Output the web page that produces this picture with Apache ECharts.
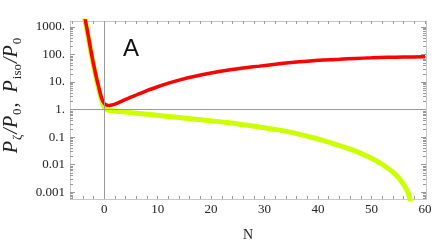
<!DOCTYPE html>
<html>
<head>
<meta charset="utf-8">
<script src="https://cdn.jsdelivr.net/npm/echarts@6/dist/echarts.min.js"></script>
<style>
html,body{margin:0;padding:0;background:#fff;}
#c{width:436px;height:247px;}
</style>
</head>
<body>
<div id="c"></div>
<script>
// ---- data (log10 of P/P0 vs N) ----
var redN   = [-3.8, -3.5, -3, -2.5, -2, -1.5, -1, -0.5, 0, 0.5, 1, 1.5, 2, 3, 4, 5, 6, 8, 10, 12, 14, 17, 20, 23, 26, 29, 32, 35, 38, 41, 44, 47, 50, 53, 56, 60];
var redLog = [3.5, 3.22, 2.7, 2.15, 1.65, 1.2, 0.8, 0.42, 0.22, 0.16, 0.15, 0.17, 0.2, 0.28, 0.37, 0.45, 0.53, 0.69, 0.83, 0.96, 1.07, 1.21, 1.33, 1.43, 1.51, 1.58, 1.65, 1.71, 1.76, 1.8, 1.83, 1.86, 1.88, 1.9, 1.91, 1.92];

var yelN   = [-3.8, -3.5, -3, -2.5, -2, -1.5, -1, -0.5, 0, 0.5, 1, 2, 3, 5, 8, 11, 14, 17, 20, 23, 26, 29, 32, 35, 38, 41, 44, 46, 48, 50, 52, 53, 54, 55, 56, 57, 57.5];
var yelLog = [3.45, 3.18, 2.65, 2.1, 1.6, 1.15, 0.72, 0.35, 0.08, 0.0, -0.03, -0.05, -0.07, -0.11, -0.17, -0.23, -0.29, -0.35, -0.41, -0.47, -0.55, -0.63, -0.72, -0.83, -0.97, -1.13, -1.31, -1.44, -1.59, -1.77, -1.99, -2.12, -2.27, -2.46, -2.72, -3.1, -3.6];

var xTickLabels = [0, 10, 20, 30, 40, 50, 60];
var yTickExp    = [-3, -2, -1, 0, 1, 2, 3];
var yTickLabels = ['0.001', '0.01', '0.1', '1.', '10.', '100.', '1000.'];

var X_MIN = -6.4, X_MAX = 60.2, Y_MIN = -3.25, Y_MAX = 3.22;

function pairs(a, b) { return a.map(function (v, i) { return [v, b[i]]; }); }

var xMinorTicks = [];
for (var t = -6; t <= 60; t += 2) xMinorTicks.push(t);
var yMinorTicks = [];
for (var n = -4; n <= 3; n++) for (var k = 2; k <= 9; k++) {
  var v = n + Math.log10(k);
  if (v > Y_MIN && v < Y_MAX) yMinorTicks.push(v);
}

var serif = "'Liberation Serif','DejaVu Serif',serif";
var frameColor = '#c8c8c8';
var tickColor = '#999';

function yAx(pos, ticks, len, showLine, labels) {
  return {
    type: 'value', position: pos, min: Y_MIN, max: Y_MAX,
    axisLine: { show: showLine, onZero: false, lineStyle: { color: frameColor, width: 1 } },
    axisTick: { show: true, inside: true, length: len, customValues: ticks, lineStyle: { color: tickColor } },
    axisLabel: labels ? {
      show: true, customValues: yTickExp, margin: 5,
      fontFamily: serif, fontSize: 13, color: '#222',
      formatter: function (v) { var i = yTickExp.indexOf(Math.round(v)); return yTickLabels[i]; }
    } : { show: false },
    splitLine: { show: false }
  };
}

var chart = echarts.init(document.getElementById('c'), null, { renderer: 'canvas' });
chart.setOption({
  animation: false,
  grid: { left: 70, right: 10, top: 21, bottom: 47 },
  xAxis: [{
    type: 'value', position: 'bottom', min: X_MIN, max: X_MAX,
    axisLine: { show: true, onZero: false, lineStyle: { color: frameColor } },
    axisTick: { show: true, inside: true, length: 3, customValues: xMinorTicks, lineStyle: { color: tickColor } },
    axisLabel: { show: true, customValues: xTickLabels, margin: 4, fontFamily: serif, fontSize: 13, color: '#222' },
    splitLine: { show: false },
    name: 'N', nameLocation: 'middle', nameGap: 29,
    nameTextStyle: { fontFamily: serif, fontSize: 14, color: '#222' }
  }, {
    type: 'value', position: 'top', min: X_MIN, max: X_MAX,
    axisLine: { show: true, onZero: false, lineStyle: { color: frameColor } },
    axisTick: { show: true, inside: true, length: 3, customValues: xMinorTicks, lineStyle: { color: tickColor } },
    axisLabel: { show: false },
    splitLine: { show: false }
  }],
  yAxis: [
    yAx('left', yTickExp, 5, true, true),
    yAx('left', yMinorTicks, 3, false, false),
    yAx('right', yTickExp, 5, true, false),
    yAx('right', yMinorTicks, 3, false, false)
  ],
  graphic: [{
    type: 'text', x: 12, y: 95, rotation: Math.PI / 2,
    style: {
      text: '{i|P}{s|ζ}{i|/}{i|P}{s|0}{i|,  P}{s|iso}{i|/}{i|P}{s|0}',
      align: 'center', verticalAlign: 'middle',
      rich: {
        i: { fontFamily: serif, fontStyle: 'italic', fontSize: 20, fill: '#222' },
        s: { fontFamily: serif, fontStyle: 'normal', fontSize: 13, fill: '#222', padding: [11, 1, 0, 1] }
      }
    }
  }, {
    type: 'text', x: 131, y: 49,
    style: { text: 'A', fontFamily: "'Liberation Sans',Arial,sans-serif", fontSize: 24, fill: '#111', align: 'center', verticalAlign: 'middle' }
  }],
  series: [{
    type: 'line', xAxisIndex: 0, yAxisIndex: 0, data: [], z: 1, silent: true,
    markLine: {
      silent: true, symbol: 'none', label: { show: false },
      lineStyle: { color: '#999', width: 1, type: 'solid' },
      data: [{ xAxis: 0 }, { yAxis: 0 }]
    }
  }, {
    type: 'line', xAxisIndex: 0, yAxisIndex: 0, data: pairs(yelN, yelLog),
    showSymbol: false, smooth: 0.3, z: 2,
    lineStyle: { color: '#ccff00', width: 5 }
  }, {
    type: 'line', xAxisIndex: 0, yAxisIndex: 0, data: pairs(redN, redLog),
    showSymbol: false, smooth: 0.3, z: 3,
    lineStyle: { color: '#ff0000', width: 3.5 }
  }]
});
</script>
</body>
</html>
